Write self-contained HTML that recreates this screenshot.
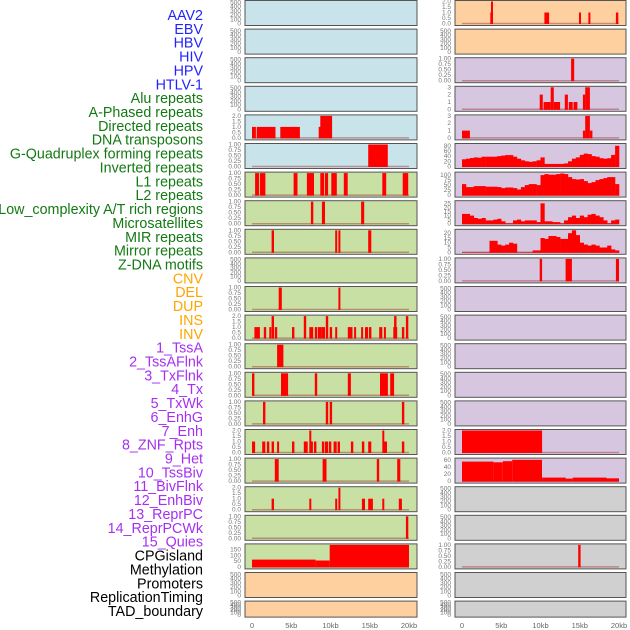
<!DOCTYPE html>
<html><head><meta charset="utf-8"><style>
html,body{margin:0;padding:0;background:#fff;}
svg{display:block;font-family:"Liberation Sans",sans-serif;}
</style></head><body>
<svg id="chart" width="630" height="630" viewBox="0 0 630 630" xmlns="http://www.w3.org/2000/svg"></svg>
<script>
// ---- labels ----
const trackLabels = ["AAV2","EBV","HBV","HIV","HPV","HTLV-1","Alu repeats","A-Phased repeats","Directed repeats","DNA transposons","G-Quadruplex forming repeats","Inverted repeats","L1 repeats","L2 repeats","Low_complexity A/T rich regions","Microsatellites","MIR repeats","Mirror repeats","Z-DNA motifs","CNV","DEL","DUP","INS","INV","1_TssA","2_TssAFlnk","3_TxFlnk","4_Tx","5_TxWk","6_EnhG","7_Enh","8_ZNF_Rpts","9_Het","10_TssBiv","11_BivFlnk","12_EnhBiv","13_ReprPC","14_ReprPCWk","15_Quies","CPGisland","Methylation","Promoters","ReplicationTiming","TAD_boundary"];
const labelGroups = ["v","v","v","v","v","v","r","r","r","r","r","r","r","r","r","r","r","r","r","s","s","s","s","s","c","c","c","c","c","c","c","c","c","c","c","c","c","c","c","k","k","k","k","k"];
const xTickValues = [0,5,10,15,20];
const xTickLabels = ["0","5kb","10kb","15kb","20kb"];
// ---- tick sets ----
const ticksEmpty = [0,100,200,300,400,500];
const ticks2 = [0,0.5,1,1.5,2];
const ticks1 = [0,0.25,0.5,0.75,1];
const ticks3 = [0,1,2,3];
// ---- left column bars [startKb,endKb,value] ----
const L4 = [[0,0.5,1],[0.6,3.0,1],[3.6,6.1,1],[8.5,8.7,1],[8.7,10.2,2]];
const L5 = [[14.8,17.3,1]];
const L6 = [[0.4,0.9,1],[1.0,1.7,1],[5.3,5.8,1],[7.0,7.9,1],[8.7,9.2,1],[9.3,9.7,1],[10.1,10.8,1],[11.7,12.2,1],[16.6,17.1,1],[19.2,19.9,1]];
const L7 = [[7.5,7.8,1],[8.9,9.3,1],[13.9,14.3,1]];
const L8 = [[2.5,2.8,1],[10.6,10.8,1],[11.0,11.2,1],[14.8,15.2,1]];
const L10 = [[3.4,3.8,1],[11.0,11.2,1]];
const L11 = [[0.3,1.0,1],[1.5,1.8,1],[2.2,2.4,1],[2.5,2.8,2],[2.9,3.2,1],[5.1,5.4,1],[6.6,6.9,2],[7.3,7.8,1],[8.0,8.3,1],[8.4,8.8,1],[8.8,9.3,1],[9.4,9.7,2],[9.9,10.2,1],[10.6,10.8,1],[12.2,12.8,1],[13.0,13.2,1],[13.9,14.1,1],[14.4,14.8,1],[14.9,15.2,1],[16.2,16.6,1],[16.8,17.0,1],[18.0,18.5,1],[18.1,18.4,2],[19.1,19.4,1],[19.6,19.9,2]];
const L12 = [[3.2,4.0,1]];
const L13 = [[0,0.3,1],[3.7,4.6,1],[8.0,8.3,1],[12.2,12.6,1],[16.3,17.3,1],[17.6,18.1,1]];
const L14 = [[1.4,1.7,1],[9.4,9.7,1],[9.9,10.2,1],[19.1,19.4,1]];
const L15 = [[0,0.4,1],[1.3,1.7,1],[1.9,2.2,1],[2.5,2.8,1],[3.2,3.4,1],[5.1,5.4,1],[6.6,7.1,1],[7.3,7.5,2],[7.5,7.6,1],[7.9,8.2,1],[8.9,9.2,1],[9.3,9.7,1],[9.8,10.1,1],[10.4,10.8,1],[10.9,11.2,1],[12.6,12.9,1],[14.0,14.3,1],[14.8,15.2,1],[16.6,16.8,2],[16.8,17.2,1],[19.1,19.4,1]];
const L16 = [[2.9,3.4,1],[9.0,9.5,1],[15.9,16.2,1],[18.5,18.9,1]];
const L17 = [[2.5,2.8,1],[7.3,7.5,1],[10.6,10.8,1],[11.0,11.2,2],[14.0,14.4,1],[14.8,15.4,1],[16.6,16.8,1],[18.7,19.1,1]];
const L18 = [[19.6,19.9,1]];
const L19 = [[0,8.1,63],[8.1,9.9,55],[9.9,20,190]];
// ---- right column bars ----
const R0 = [[3.6,3.9,1],[3.7,3.8,2],[10.5,11.1,1],[14.9,15.1,1],[16.1,16.3,1],[19.6,19.9,1]];
const R2 = [[13.9,14.3,1]];
const R3 = [[9.9,10.3,2],[10.4,11.3,1],[11.3,11.7,3],[11.7,12.5,1],[13.1,13.5,2],[13.6,14.1,1],[14.2,14.7,1],[15.4,15.7,2],[15.7,16.3,3]];
const R4 = [[0,1.0,1],[15.4,15.7,1],[15.7,16.3,3],[16.3,16.6,1]];
const R9 = [[9.9,10.2,1],[13.2,14.0,1],[19.6,20.0,1]];
const R15 = [[0,10.2,2]];
const R16 = [[0,4,55],[4,5.2,53],[5.2,6.4,56],[6.4,10.2,60],[10.2,13.2,10],[13.2,14.1,7],[14.1,18.4,10],[18.4,20,8]];
const R19 = [[14.8,15.1,1]];
// ---- right column profiles (0.5kb bins) ----
const R5 = [28,30,33,35,34,38,38,38,38,40,42,44,44,38,30,24,20,18,20,24,35,10,10,10,10,10,12,20,30,35,45,50,48,40,38,32,30,32,45,80];
const R6 = [55,40,40,45,45,45,42,42,42,40,35,38,38,35,28,40,50,55,55,50,100,105,102,102,105,108,105,90,80,78,80,70,60,65,75,80,85,90,90,55];
const R7 = [12,12,10,7,6,7,4,4,5,6,3,0.5,0.5,4,5,3,4,4,4,2,25,3,3,2,2,0.5,4,8,10,7,10,8,11,12,10,8,4,0.5,4,5];
const R8 = [0,0,0,0,0,0,0,12,12,8,7,8,10,9,0,0,0,0,2,2,15,14,17,17,16,14,14,20,23,18,10,8,7,8,7,5,5,7,3,2];

const BG = {b:"#c8e3ea",g:"#c9e0a4",o:"#ffd09f",p:"#d7c6e0",y:"#d0d0d0"};
const leftBg  = "bbbbbbggggggggggggggooo".split("");
const rightBg = "oopppppppppppppppyyyyyy".split("");
const leftPanels = [
 [null,"e",ticksEmpty,520],[null,"e",ticksEmpty,520],[null,"e",ticksEmpty,520],[null,"e",ticksEmpty,520],
 [L4,"b",ticks2,2],[L5,"b",ticks1,1],[L6,"b",ticks1,1],[L7,"b",ticks1,1],[L8,"b",ticks1,1],[null,"e",ticksEmpty,520],
 [L10,"b",ticks1,1],[L11,"b",ticks2,2],[L12,"b",ticks1,1],[L13,"b",ticks1,1],[L14,"b",ticks1,1],[L15,"b",ticks2,2],
 [L16,"b",ticks1,1],[L17,"b",ticks2,2],[L18,"b",ticks1,1],[L19,"b",[0,50,100,150],190],[null,"e",ticksEmpty,520],[null,"e",ticksEmpty,520]];
const rightPanels = [
 [R0,"b",ticks2,2],[null,"e",ticksEmpty,520],[R2,"b",ticks1,1],[R3,"b",ticks3,3],[R4,"b",ticks3,3],
 [R5,"a",[0,20,40,60,80],85],[R6,"a",[0,25,50,75,100],110],[R7,"a",[0,5,10,15,20,25],27],[R8,"a",[0,5,10,15,20],23],
 [R9,"b",ticks1,1],[null,"e",ticksEmpty,520],[null,"e",ticksEmpty,520],[null,"e",ticksEmpty,520],[null,"e",ticksEmpty,520],[null,"e",ticksEmpty,520],
 [R15,"b",ticks2,2],[R16,"b",[0,20,40,60],62],[null,"e",ticksEmpty,520],[null,"e",ticksEmpty,520],[R19,"b",ticks1,1],[null,"e",ticksEmpty,520],[null,"e",ticksEmpty,520]];

const NS = "http://www.w3.org/2000/svg";
const svg = document.getElementById("chart");
function mk(tag, attrs, parent){ const e=document.createElementNS(NS,tag); for(const k in attrs) e.setAttribute(k,attrs[k]); (parent||svg).appendChild(e); return e; }
const groupColor = {v:"#2323ff",r:"#137a13",s:"#ffa500",c:"#a530f0",k:"#000"};

trackLabels.forEach((t,i)=>{
  const el = mk("text",{x:203,y:(20+13.86*i).toFixed(1),"text-anchor":"end","font-size":"14.3",fill:groupColor[labelGroups[i]]});
  el.textContent=t;
  
  
});

function fmt(ticks,v){
  if(ticks===ticks1) return v.toFixed(2);
  if(ticks===ticks2) return v.toFixed(1);
  return String(v);
}

function drawPanel(spec, bgKey, row, col){
  const [data, kind, ticks, ymax] = spec;
  const top = 0.5 + 28.6*row;
  const H = row===21 ? 16 : 25;
  const left = col===0 ? 245 : 455, right = col===0 ? 417 : 626;
  const x0 = col===0 ? 252 : 462;
  const xs = kb => x0 + kb*7.85;
  const yb = top + H - 2, yt = top + 1;
  const ys = v => yb - (v/ymax)*(yb-yt);
  const g = mk("g",{});
  
  
  const bg = mk("rect",{x:left,y:top,width:right-left,height:H,fill:BG[bgKey],stroke:"#555","stroke-width":1},g);
  
  
  ticks.forEach(v=>{
    const t = mk("text",{x:left-4,y:(ys(v)+2).toFixed(1),"text-anchor":"end","font-size":"6.5",fill:"#777"},g);
    t.textContent = fmt(ticks,v);
    
    
  });
  if(kind!=="e"){
    const bl = mk("line",{x1:xs(0),x2:xs(20),y1:yb,y2:yb,stroke:"#a04040","stroke-opacity":0.5,"stroke-width":1.5},g);
    
    
  }
  if(kind==="b"){
    data.forEach(d=>{
      const xa=xs(d[0]), w=Math.max(2,xs(d[1])-xa);
      const r = mk("rect",{x:xa.toFixed(1),y:ys(d[2]).toFixed(1),width:w.toFixed(1),height:(yb-ys(d[2])+0.5).toFixed(1),fill:"#ff0000"},g);
      
      
    });
  } else if(kind==="a"){
    const step = 20/data.length;
    data.forEach((v,i)=>{
      const xa=xs(i*step), xb=xs((i+1)*step);
      const r = mk("rect",{x:xa.toFixed(1),y:ys(v).toFixed(1),width:(xb-xa+0.3).toFixed(1),height:(yb-ys(v)+0.5).toFixed(1),fill:"#ff0000"},g);
      
      
    });
  }
}
leftPanels.forEach((p,i)=>drawPanel(p,leftBg[i],i,0));
rightPanels.forEach((p,i)=>drawPanel(p,rightBg[i],i,1));

[252,462].forEach(x0=>{
  xTickValues.forEach((v,i)=>{
    const t = mk("text",{x:x0+v*7.85,y:628,"text-anchor":"middle","font-size":"7.5",fill:"#666"});
    t.textContent = xTickLabels[i];
    
    
  });
});
</script>
</body></html>
